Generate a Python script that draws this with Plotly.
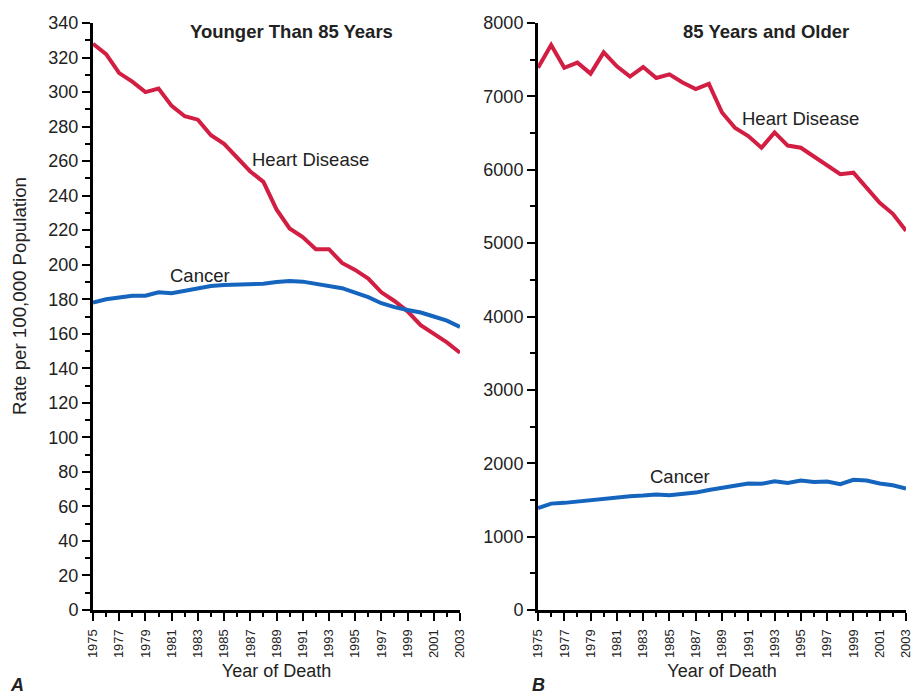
import plotly.graph_objects as go

# Death rates per 100,000 population, 1975-2003
years = list(range(1975, 2004))

# Younger than 85 years
heart_under85 = [328, 322, 311, 306, 300, 302, 292, 286, 284, 275, 270, 262, 254, 248, 232,
                 221, 216, 209, 209, 201, 197, 192, 184, 179, 173, 165, 160, 155, 149]
cancer_under85 = [178, 180, 181, 182, 182, 184, 183.5, 185, 186, 187.7, 188.3, 188.7, 188.7, 189, 190,
                  190.6, 190.2, 189, 188, 186.4, 183.8, 181.2, 177.7, 175.4, 173.8, 172.3, 170, 167.6, 164]

# 85 years and older
heart_85plus = [7390, 7700, 7390, 7460, 7310, 7600, 7410, 7270, 7400, 7250, 7300, 7190, 7100, 7170, 6780,
                6570, 6460, 6300, 6510, 6330, 6300, 6180, 6060, 5940, 5960, 5750, 5550, 5400, 5170]
cancer_85plus = [1390, 1450, 1460, 1480, 1490, 1520, 1530, 1550, 1560, 1575, 1565, 1585, 1600, 1635, 1665,
                 1695, 1725, 1720, 1755, 1730, 1765, 1745, 1750, 1715, 1775, 1765, 1725, 1700, 1655]

RED = "#D21E42"
BLUE = "#1565BF"
FONT = "Liberation Sans, Arial, Helvetica, sans-serif"
INK = "#222"

fig = go.Figure()
fig.add_trace(go.Scatter(x=years, y=heart_under85, mode="lines", line=dict(color=RED, width=4),
                         xaxis="x", yaxis="y", showlegend=False))
fig.add_trace(go.Scatter(x=years, y=cancer_under85, mode="lines", line=dict(color=BLUE, width=4),
                         xaxis="x", yaxis="y", showlegend=False))
fig.add_trace(go.Scatter(x=years, y=heart_85plus, mode="lines", line=dict(color=RED, width=4),
                         xaxis="x2", yaxis="y2", showlegend=False))
fig.add_trace(go.Scatter(x=years, y=cancer_85plus, mode="lines", line=dict(color=BLUE, width=4),
                         xaxis="x2", yaxis="y2", showlegend=False))

W, H = 914, 699
y_dom = [(H - 610) / H, (H - 23) / H]

xcommon = dict(
    range=[1975, 2003], tick0=1975, dtick=2, ticks="outside", ticklen=8, tickwidth=2,
    tickcolor="black", tickangle=-90, tickfont=dict(size=13, color=INK, family=FONT),
    ticklabelstandoff=3,
    showline=True, linewidth=3, linecolor="black", showgrid=False, zeroline=False, automargin=False,
    minor=dict(dtick=1, tick0=1975, ticks="outside", ticklen=4, tickwidth=2, tickcolor="black", showgrid=False),
    title=dict(text="Year of Death", font=dict(size=18, color=INK, family=FONT), standoff=8),
)
ycommon = dict(
    ticks="outside", ticklen=8, tickwidth=2, tickcolor="black",
    tickfont=dict(size=18, color=INK, family=FONT), automargin=False,
    showline=True, linewidth=3, linecolor="black", showgrid=False, zeroline=False,
)

fig.update_layout(
    width=W, height=H,
    margin=dict(l=0, r=0, t=0, b=0),
    paper_bgcolor="white", plot_bgcolor="white",
    font=dict(family=FONT, color=INK),
    xaxis=dict(domain=[93 / W, 460 / W], anchor="y", **xcommon),
    yaxis=dict(domain=y_dom, anchor="x", range=[0, 340], dtick=20,
               minor=dict(dtick=10, ticks="outside", ticklen=5, tickwidth=2, tickcolor="black", showgrid=False),
               **ycommon),
    xaxis2=dict(domain=[538 / W, 906 / W], anchor="y2", **xcommon),
    yaxis2=dict(domain=y_dom, anchor="x2", range=[0, 8000], dtick=1000,
                minor=dict(dtick=500, ticks="outside", ticklen=5, tickwidth=2, tickcolor="black", showgrid=False),
                **ycommon),
)

label_font = dict(size=18.5, color=INK, family=FONT)
ann = []
# shared y-axis title
ann.append(dict(text="Rate per 100,000 Population", x=19 / W, y=(H - 296) / H, xref="paper", yref="paper",
                textangle=-90, xanchor="center", yanchor="middle", showarrow=False,
                font=dict(size=18.7, color=INK, family=FONT)))
# panel titles
ann.append(dict(text="<b>Younger Than 85 Years</b>", x=291 / W, y=(H - 31) / H, xref="paper", yref="paper",
                xanchor="center", yanchor="middle", showarrow=False, font=label_font))
ann.append(dict(text="<b>85 Years and Older</b>", x=766 / W, y=(H - 31) / H, xref="paper", yref="paper",
                xanchor="center", yanchor="middle", showarrow=False, font=label_font))
# series labels
ann.append(dict(text="Heart Disease", x=1991.6, y=261, xref="x", yref="y", showarrow=False,
                xanchor="center", yanchor="middle", font=label_font))
ann.append(dict(text="Cancer", x=1983.2, y=194, xref="x", yref="y", showarrow=False,
                xanchor="center", yanchor="middle", font=label_font))
ann.append(dict(text="Heart Disease", x=1995.0, y=6705, xref="x2", yref="y2", showarrow=False,
                xanchor="center", yanchor="middle", font=label_font))
ann.append(dict(text="Cancer", x=1985.8, y=1817, xref="x2", yref="y2", showarrow=False,
                xanchor="center", yanchor="middle", font=label_font))
# panel letters
ann.append(dict(text="<b><i>A</i></b>", x=17 / W, y=2 / H, xref="paper", yref="paper",
                xanchor="center", yanchor="bottom", showarrow=False, font=dict(size=18, color=INK, family=FONT)))
ann.append(dict(text="<b><i>B</i></b>", x=538 / W, y=2 / H, xref="paper", yref="paper",
                xanchor="center", yanchor="bottom", showarrow=False, font=dict(size=18, color=INK, family=FONT)))
fig.update_layout(annotations=ann)

fig.write_html("out.html")
